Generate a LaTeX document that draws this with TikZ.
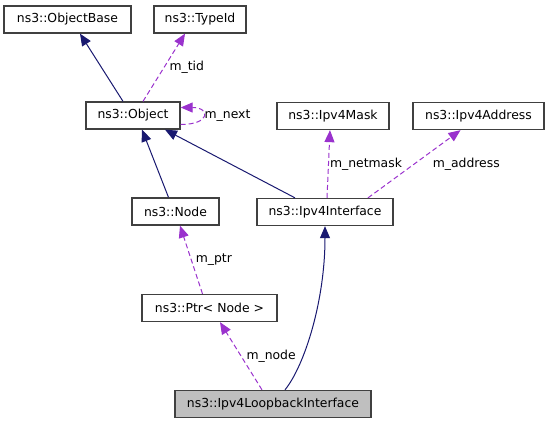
\documentclass[tikz,border=0pt]{standalone}
\usepackage{fontspec}
\setmainfont{DejaVu Sans}
\usetikzlibrary{arrows.meta}
\definecolor{inhcol}{HTML}{191970}
\definecolor{usecol}{HTML}{9A32CD}
\begin{document}
\begin{tikzpicture}[x=1pt, y=-1pt,
    font=\fontsize{12.4}{14}\selectfont,
    cls/.style={draw=black!75, line width=1.3pt, minimum height=27pt, inner sep=0pt},
    inherit/.style={draw=inhcol, line width=1pt, -{Triangle[length=12pt,width=10pt]}, inhcol},
    member/.style={draw=usecol, line width=1pt, dash pattern=on 5pt off 3pt, -{Triangle[length=12pt,width=10pt]}, usecol},
    lbl/.style={text=black, inner sep=1pt}]
    \useasboundingbox (0,0) rectangle (549,424);

    \node[cls, minimum width=127pt] (objbase) at (67.5,19.5) {ns3::ObjectBase};
    \node[cls, minimum width=92pt] (typeid) at (200,19.5) {ns3::TypeId};
    \node[cls, minimum width=94pt] (object) at (133,115.5) {ns3::Object};
    \node[cls, minimum width=112pt] (mask) at (333,116) {ns3::Ipv4Mask};
    \node[cls, minimum width=131pt] (addr) at (478.5,116) {ns3::Ipv4Address};
    \node[cls, minimum width=87pt] (node) at (175.5,211.5) {ns3::Node};
    \node[cls, minimum width=136pt] (iface) at (325,212) {ns3::Ipv4Interface};
    \node[cls, minimum width=135pt] (ptr) at (209.5,308) {ns3::Ptr< Node >};
    \node[cls, minimum width=196pt, fill=black!25] (loop) at (273,404) {ns3::Ipv4LoopbackInterface};

    \draw[inherit] ([xshift=-10pt]object.north) -- ([xshift=12.5pt]objbase.south);
    \draw[member] ([xshift=10pt]object.north) -- node[lbl, right=4pt] {m\_tid} ([xshift=-15pt]typeid.south);
    \draw[member] ([yshift=-9pt]object.east) .. controls +(30,0) and +(30,0) .. node[lbl, right] {m\_next} ([yshift=8pt]object.east);
    \draw[inherit] ([xshift=-7pt]node.north) -- ([xshift=9pt]object.south);
    \draw[inherit] ([xshift=-30pt]iface.north) -- ([xshift=32pt]object.south);
    \draw[member] ([xshift=2pt]iface.north) -- node[lbl, right] {m\_netmask} ([xshift=-3pt]mask.south);
    \draw[member] ([xshift=43pt]iface.north) -- node[lbl, right=17pt] {m\_address} ([xshift=-18pt]addr.south);
    \draw[member] ([xshift=-7pt]ptr.north) -- node[lbl, right=3pt] {m\_ptr} ([xshift=4.5pt]node.south);
    \draw[member] ([xshift=-11pt]loop.north) -- node[lbl, right=4pt] {m\_node} ([xshift=10.5pt]ptr.south);
    \draw[inherit] ([xshift=12pt]loop.north) .. controls +(20,-25) and +(0,74) .. (iface.south);
\end{tikzpicture}
\end{document}
